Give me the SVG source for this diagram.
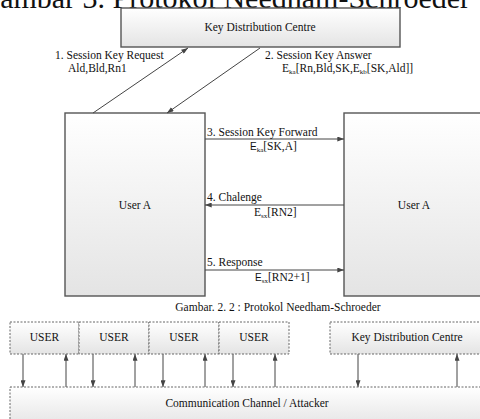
<svg xmlns="http://www.w3.org/2000/svg" width="480" height="419" viewBox="0 0 480 419">
<defs>
<linearGradient id="g" x1="0" y1="0" x2="0" y2="1">
<stop offset="0" stop-color="#ffffff"/>
<stop offset="1" stop-color="#e4e4e4"/>
</linearGradient>
<marker id="ah" viewBox="0 0 8 6" refX="8" refY="3" markerWidth="7" markerHeight="5" orient="auto" markerUnits="userSpaceOnUse">
<path d="M0,0 L8,3 L0,6 z" fill="#444"/>
</marker>
<style>
text{font-family:"Liberation Serif","Times New Roman",serif;fill:#111;font-size:11.5px}
.box{fill:url(#g);stroke:#555;stroke-width:1.4}
.dbox{fill:url(#g);stroke:#666;stroke-width:1;stroke-dasharray:2,1.5}
.ln{stroke:#444;stroke-width:1;fill:none;marker-end:url(#ah)}
.c{text-anchor:middle}
.sub{font-size:7px}
.sans{font-family:"Liberation Sans",Arial,sans-serif}
</style>
</defs>
<rect width="480" height="419" fill="#fff"/>
<text x="470" y="8" style="font-size:30px;text-anchor:end">Gambar 3. Protokol Needham-Schroeder</text>

<g id="kdc">
<rect class="box" x="121" y="8" width="279" height="39"/>
<text x="260" y="31" class="c">Key Distribution Centre</text>
</g>
<g id="userA1">
<rect class="box" x="65" y="113" width="140" height="183"/>
<text x="135" y="209" class="c">User A</text>
</g>
<g id="userA2">
<rect class="box" x="344" y="113" width="140" height="183"/>
<text x="414" y="209" class="c">User A</text>
</g>

<g id="connectors">
<line class="ln" x1="93" y1="113" x2="188" y2="48"/>
<line class="ln" x1="260" y1="48" x2="167" y2="113"/>
<line class="ln" x1="205" y1="139" x2="344" y2="139"/>
<line class="ln" x1="344" y1="205" x2="205" y2="205"/>
<line class="ln" x1="205" y1="270" x2="344" y2="270"/>
<line class="ln" x1="23" y1="354" x2="23" y2="387"/>
<line class="ln" x1="66" y1="387" x2="66" y2="354"/>
<line class="ln" x1="93" y1="354" x2="93" y2="387"/>
<line class="ln" x1="135" y1="387" x2="135" y2="354"/>
<line class="ln" x1="163" y1="354" x2="163" y2="387"/>
<line class="ln" x1="205" y1="387" x2="205" y2="354"/>
<line class="ln" x1="233" y1="354" x2="233" y2="387"/>
<line class="ln" x1="275" y1="387" x2="275" y2="354"/>
<line class="ln" x1="358" y1="354" x2="358" y2="387"/>
<line class="ln" x1="457" y1="387" x2="457" y2="354"/>
</g>

<g id="labels">
<text x="55" y="59">1. Session Key Request</text>
<text x="68" y="72">Ald,Bld,Rn1</text>
<text x="265" y="59">2. Session Key Answer</text>
<text x="282" y="72">E<tspan class="sub" dy="2">ka</tspan><tspan dy="-2">[Rn,Bld,SK,E</tspan><tspan class="sub" dy="2">kb</tspan><tspan dy="-2">[SK,Ald]]</tspan></text>
<text x="207" y="136">3. Session Key Forward</text>
<text x="250" y="150"><tspan class="sans" style="font-size:10px">E</tspan><tspan class="sub" dy="2">ka</tspan><tspan dy="-2">[SK,A]</tspan></text>
<text x="207" y="201">4. Chalenge</text>
<text x="254" y="216">E<tspan class="sub" dy="2">sx</tspan><tspan dy="-2">[RN2]</tspan></text>
<text x="207" y="266">5. Response</text>
<text x="255" y="281"><tspan class="sans" style="font-size:10px">E</tspan><tspan class="sub" dy="2">sx</tspan><tspan dy="-2">[RN2+1]</tspan></text>
<text x="278" y="311" class="c">Gambar. 2. 2 : Protokol Needham-Schroeder</text>
</g>

<g id="user1"><rect class="dbox" x="10" y="322" width="69" height="32"/><text x="44.5" y="341" class="c">USER</text></g>
<g id="user2"><rect class="dbox" x="79" y="322" width="70" height="32"/><text x="114" y="341" class="c">USER</text></g>
<g id="user3"><rect class="dbox" x="149" y="322" width="70" height="32"/><text x="184" y="341" class="c">USER</text></g>
<g id="user4"><rect class="dbox" x="219" y="322" width="70" height="32"/><text x="254" y="341" class="c">USER</text></g>
<g id="kdc2"><rect class="dbox" x="330" y="322" width="160" height="32"/><text x="407" y="341" class="c">Key Distribution Centre</text></g>
<g id="channel"><rect class="dbox" x="10" y="387" width="480" height="40"/><text x="247" y="407" class="c">Communication Channel / Attacker</text></g>
</svg>
